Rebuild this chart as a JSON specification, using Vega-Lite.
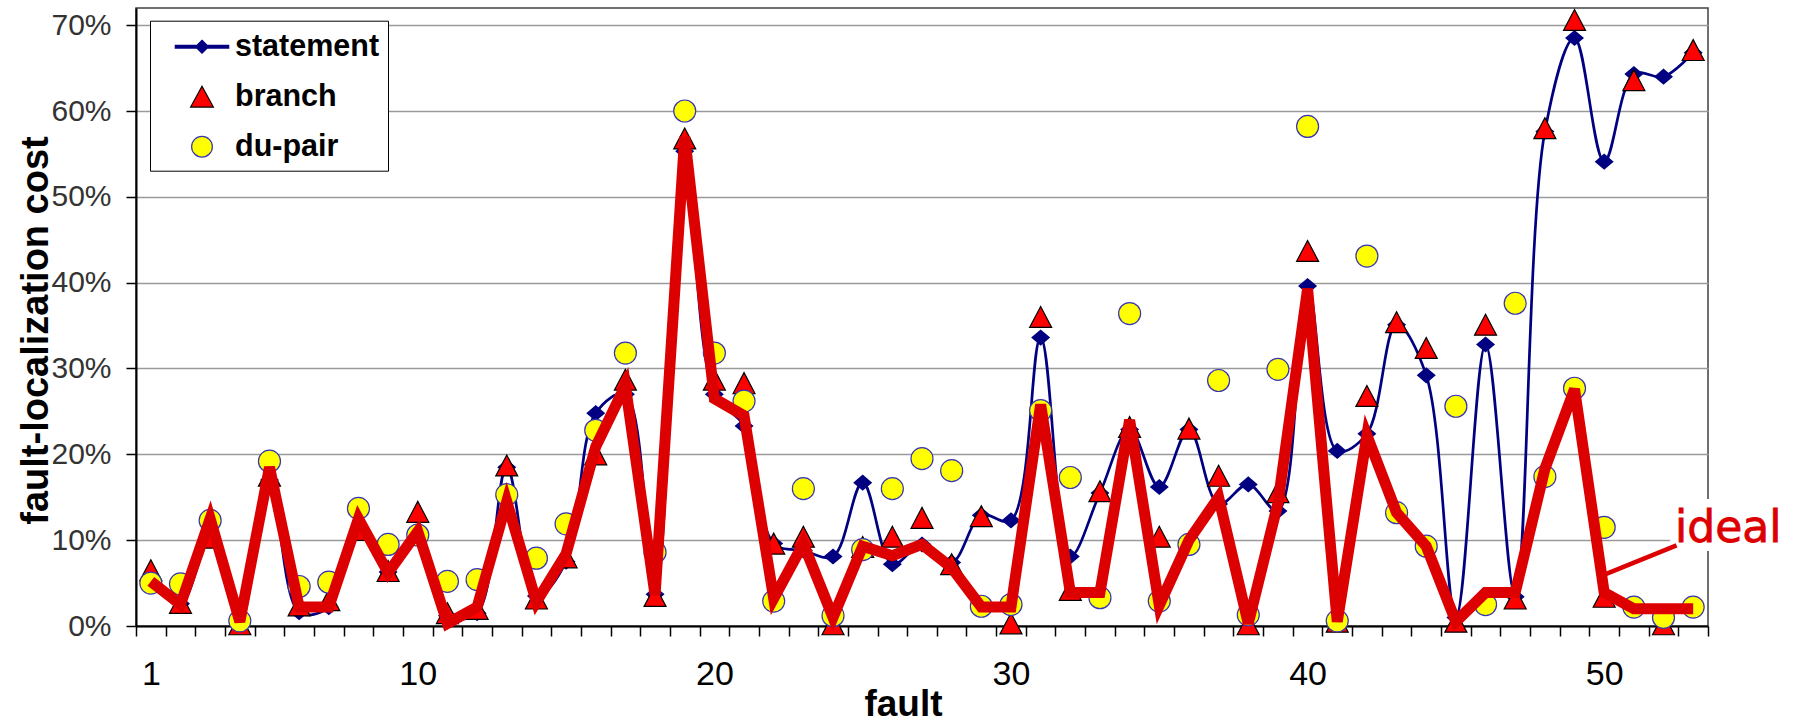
{
  "$schema": "https://vega.github.io/schema/vega-lite/v6.json",
  "width": 1572,
  "height": 618,
  "autosize": {"type": "none"},
  "padding": {"left": 136, "top": 8, "right": 92, "bottom": 96},
  "background": "white",
  "config": {
    "view": {"stroke": "#404040", "strokeWidth": 1.5}
  },
  "datasets": {
    "faults": [
      {"fault": 1, "statement": 0.050, "branch": 0.065, "dupair": 0.050, "ideal": 0.052},
      {"fault": 2, "statement": 0.026, "branch": 0.027, "dupair": 0.049, "ideal": 0.025},
      {"fault": 3, "statement": 0.100, "branch": 0.103, "dupair": 0.123, "ideal": 0.125},
      {"fault": 4, "statement": 0.005, "branch": 0.002, "dupair": 0.006, "ideal": 0.005},
      {"fault": 5, "statement": 0.170, "branch": 0.175, "dupair": 0.192, "ideal": 0.185},
      {"fault": 6, "statement": 0.016, "branch": 0.024, "dupair": 0.046, "ideal": 0.022},
      {"fault": 7, "statement": 0.022, "branch": 0.030, "dupair": 0.051, "ideal": 0.022},
      {"fault": 8, "statement": 0.110, "branch": 0.112, "dupair": 0.137, "ideal": 0.125},
      {"fault": 9, "statement": 0.063, "branch": 0.064, "dupair": 0.095, "ideal": 0.062},
      {"fault": 10, "statement": 0.103, "branch": 0.133, "dupair": 0.106, "ideal": 0.110},
      {"fault": 11, "statement": 0.012, "branch": 0.015, "dupair": 0.052, "ideal": 0.003},
      {"fault": 12, "statement": 0.015, "branch": 0.020, "dupair": 0.054, "ideal": 0.022},
      {"fault": 13, "statement": 0.185, "branch": 0.187, "dupair": 0.153, "ideal": 0.145},
      {"fault": 14, "statement": 0.035, "branch": 0.032, "dupair": 0.079, "ideal": 0.028},
      {"fault": 15, "statement": 0.075, "branch": 0.080, "dupair": 0.119, "ideal": 0.084},
      {"fault": 16, "statement": 0.248, "branch": 0.200, "dupair": 0.228, "ideal": 0.209},
      {"fault": 17, "statement": 0.270, "branch": 0.287, "dupair": 0.318, "ideal": 0.280},
      {"fault": 18, "statement": 0.037, "branch": 0.035, "dupair": 0.086, "ideal": 0.036},
      {"fault": 19, "statement": 0.553, "branch": 0.568, "dupair": 0.600, "ideal": 0.570},
      {"fault": 20, "statement": 0.270, "branch": 0.287, "dupair": 0.318, "ideal": 0.265},
      {"fault": 21, "statement": 0.233, "branch": 0.283, "dupair": 0.262, "ideal": 0.245},
      {"fault": 22, "statement": 0.096, "branch": 0.096, "dupair": 0.029, "ideal": 0.032},
      {"fault": 23, "statement": 0.088, "branch": 0.104, "dupair": 0.160, "ideal": 0.096},
      {"fault": 24, "statement": 0.081, "branch": 0.002, "dupair": 0.012, "ideal": 0.010},
      {"fault": 25, "statement": 0.167, "branch": 0.092, "dupair": 0.089, "ideal": 0.093},
      {"fault": 26, "statement": 0.072, "branch": 0.104, "dupair": 0.160, "ideal": 0.082},
      {"fault": 27, "statement": 0.095, "branch": 0.126, "dupair": 0.195, "ideal": 0.095},
      {"fault": 28, "statement": 0.074, "branch": 0.072, "dupair": 0.181, "ideal": 0.068},
      {"fault": 29, "statement": 0.129, "branch": 0.128, "dupair": 0.023, "ideal": 0.022},
      {"fault": 30, "statement": 0.123, "branch": 0.003, "dupair": 0.025, "ideal": 0.022},
      {"fault": 31, "statement": 0.336, "branch": 0.360, "dupair": 0.251, "ideal": 0.258},
      {"fault": 32, "statement": 0.081, "branch": 0.042, "dupair": 0.173, "ideal": 0.039},
      {"fault": 33, "statement": 0.155, "branch": 0.157, "dupair": 0.033, "ideal": 0.039},
      {"fault": 34, "statement": 0.229, "branch": 0.232, "dupair": 0.364, "ideal": 0.240},
      {"fault": 35, "statement": 0.162, "branch": 0.104, "dupair": 0.029, "ideal": 0.024},
      {"fault": 36, "statement": 0.229, "branch": 0.230, "dupair": 0.095, "ideal": 0.100},
      {"fault": 37, "statement": 0.142, "branch": 0.175, "dupair": 0.286, "ideal": 0.150},
      {"fault": 38, "statement": 0.165, "branch": 0.002, "dupair": 0.013, "ideal": 0.003},
      {"fault": 39, "statement": 0.134, "branch": 0.156, "dupair": 0.299, "ideal": 0.143},
      {"fault": 40, "statement": 0.396, "branch": 0.437, "dupair": 0.582, "ideal": 0.393},
      {"fault": 41, "statement": 0.204, "branch": 0.005, "dupair": 0.006, "ideal": 0.005},
      {"fault": 42, "statement": 0.224, "branch": 0.268, "dupair": 0.431, "ideal": 0.222},
      {"fault": 43, "statement": 0.351, "branch": 0.354, "dupair": 0.132, "ideal": 0.132},
      {"fault": 44, "statement": 0.292, "branch": 0.324, "dupair": 0.093, "ideal": 0.093},
      {"fault": 45, "statement": 0.010, "branch": 0.005, "dupair": 0.256, "ideal": 0.005},
      {"fault": 46, "statement": 0.328, "branch": 0.351, "dupair": 0.025, "ideal": 0.039},
      {"fault": 47, "statement": 0.034, "branch": 0.032, "dupair": 0.376, "ideal": 0.039},
      {"fault": 48, "statement": 0.576, "branch": 0.580, "dupair": 0.174, "ideal": 0.183},
      {"fault": 49, "statement": 0.685, "branch": 0.706, "dupair": 0.277, "ideal": 0.276},
      {"fault": 50, "statement": 0.541, "branch": 0.034, "dupair": 0.115, "ideal": 0.039},
      {"fault": 51, "statement": 0.643, "branch": 0.636, "dupair": 0.022, "ideal": 0.020},
      {"fault": 52, "statement": 0.640, "branch": 0.002, "dupair": 0.010, "ideal": 0.020},
      {"fault": 53, "statement": 0.668, "branch": 0.671, "dupair": 0.022, "ideal": 0.020}
    ]
  },
  "data": {"name": "faults"},
  "encoding": {
    "x": {
      "field": "fault", "type": "quantitative", "title": "fault",
      "scale": {"domain": [0.5, 53.5], "nice": false, "zero": false},
      "axis": {
        "values": [0.5, 1.5, 2.5, 3.5, 4.5, 5.5, 6.5, 7.5, 8.5, 9.5, 10.5, 11.5, 12.5, 13.5, 14.5, 15.5, 16.5, 17.5, 18.5, 19.5, 20.5, 21.5, 22.5, 23.5, 24.5, 25.5, 26.5, 27.5, 28.5, 29.5, 30.5, 31.5, 32.5, 33.5, 34.5, 35.5, 36.5, 37.5, 38.5, 39.5, 40.5, 41.5, 42.5, 43.5, 44.5, 45.5, 46.5, 47.5, 48.5, 49.5, 50.5, 51.5, 52.5, 53.5, 1, 10, 20, 30, 40, 50],
        "labelExpr": "datum.value % 1 === 0 ? format(datum.value, 'd') : ''",
        "tickOpacity": {"condition": {"test": "datum.value % 1 === 0", "value": 0}, "value": 1},
        "labelOverlap": false,
        "labelFlush": false,
        "labelBound": false,
        "grid": false,
        "domainColor": "#000000",
        "domainWidth": 2,
        "tickColor": "#000000",
        "tickWidth": 1.5,
        "tickSize": 10,
        "labelFont": "Liberation Sans",
        "labelFontSize": 34,
        "labelColor": "#000000",
        "labelPadding": 21,
        "titleFont": "Liberation Sans",
        "titleFontSize": 37,
        "titleFontWeight": "bold",
        "titleColor": "#000000",
        "titlePadding": -5,
        "titleX": 767
      }
    },
    "y": {
      "field": "value", "type": "quantitative", "title": "fault-localization cost",
      "scale": {"domain": [0, 0.72], "nice": false, "zero": true},
      "axis": {
        "values": [0, 0.1, 0.2, 0.3, 0.4, 0.5, 0.6, 0.7],
        "format": ".0%",
        "grid": true,
        "gridColor": "#9a9a9a",
        "gridWidth": 1.5,
        "domainColor": "#000000",
        "domainWidth": 2,
        "tickColor": "#000000",
        "tickWidth": 1.5,
        "tickSize": 10,
        "labelFont": "Liberation Sans",
        "labelFontSize": 30,
        "labelColor": "#333333",
        "labelPadding": 15,
        "titleFont": "Liberation Sans",
        "titleFontSize": 38,
        "titleFontWeight": "bold",
        "titleColor": "#000000",
        "titlePadding": -5,
        "titleY": 322
      }
    }
  },
  "layer": [
    {
      "transform": [{"fold": ["statement"], "as": ["key", "value"]}],
      "mark": {"type": "line", "color": "#000080", "strokeWidth": 2.7, "interpolate": "catmull-rom"}
    },
    {
      "transform": [{"fold": ["statement"], "as": ["key", "value"]}],
      "mark": {"type": "point", "shape": "M-1,0L0,-0.85L1,0L0,0.85Z", "filled": true, "color": "#000080", "size": 361, "opacity": 1}
    },
    {
      "transform": [{"fold": ["branch"], "as": ["key", "value"]}],
      "mark": {"type": "point", "shape": "M0,-0.95L1,0.95L-1,0.95Z", "filled": true, "fill": "#FF0000", "stroke": "#000000", "strokeWidth": 1.2, "size": 484, "opacity": 1}
    },
    {
      "transform": [{"fold": ["dupair"], "as": ["key", "value"]}],
      "mark": {"type": "point", "shape": "circle", "filled": true, "fill": "#FFFF00", "stroke": "#3535B5", "strokeWidth": 1.2, "size": 484, "opacity": 1}
    },
    {
      "transform": [{"fold": ["ideal"], "as": ["key", "value"]}],
      "mark": {"type": "line", "color": "#DD0000", "strokeWidth": 11, "strokeJoin": "miter"}
    },
    {
      "data": {"values": [{"fault": 52.39, "value": 0.0978, "label": "ideal"}]},
      "mark": {"type": "text", "align": "left", "baseline": "alphabetic", "font": "DejaVu Sans", "fontSize": 44, "color": "#FFFFFF", "stroke": "#FFFFFF", "strokeWidth": 18, "strokeJoin": "round"},
      "encoding": {
        "text": {"field": "label"}
      }
    },
    {
      "data": {"values": [{"fault": 49.8, "value": 0.057, "fault2": 52.44, "value2": 0.094}]},
      "mark": {"type": "rule", "color": "#DD0000", "strokeWidth": 4.5},
      "encoding": {
        "x2": {"field": "fault2"},
        "y2": {"field": "value2"}
      }
    },
    {
      "data": {"values": [{"fault": 52.39, "value": 0.0978, "label": "ideal"}]},
      "mark": {"type": "text", "align": "left", "baseline": "alphabetic", "font": "DejaVu Sans", "fontSize": 44, "color": "#DD0000", "stroke": "#DD0000", "strokeWidth": 0.8},
      "encoding": {
        "text": {"field": "label"}
      }
    },
    {
      "data": {"values": [{"series": "statement"}, {"series": "branch"}, {"series": "du-pair"}]},
      "transform": [{"filter": "false"}],
      "mark": {"type": "point", "filled": true, "strokeWidth": 1.2, "opacity": 1},
      "encoding": {
        "fill": {
          "field": "series", "type": "nominal",
          "scale": {"domain": ["statement", "branch", "du-pair"], "range": ["#000080", "#FF0000", "#FFFF00"]},
          "legend": {
            "title": null, "orient": "none", "legendX": 14, "legendY": 12.7,
            "padding": 8, "strokeColor": "#000000", "fillColor": "#FFFFFF",
            "symbolSize": 1156, "symbolOffset": 26, "labelOffset": 15, "rowPadding": 16,
            "symbolStrokeWidth": 1.2,
            "labelExpr": "datum.label + '\u00a0'",
            "labelFont": "Liberation Sans", "labelFontSize": 30.5, "labelFontWeight": "bold", "labelColor": "#000000",
            "encode": {"legend": {"update": {"strokeWidth": {"value": 1.5}}}}
          }
        },
        "stroke": {
          "field": "series", "type": "nominal",
          "scale": {"domain": ["statement", "branch", "du-pair"], "range": ["#000080", "#000000", "#3535B5"]},
          "legend": {
            "title": null, "orient": "none", "legendX": 14, "legendY": 12.7,
            "padding": 8, "strokeColor": "#000000", "fillColor": "#FFFFFF",
            "symbolSize": 1156, "symbolOffset": 26, "labelOffset": 15, "rowPadding": 16,
            "symbolStrokeWidth": 1.2,
            "labelExpr": "datum.label + '\u00a0'",
            "labelFont": "Liberation Sans", "labelFontSize": 30.5, "labelFontWeight": "bold", "labelColor": "#000000",
            "encode": {"legend": {"update": {"strokeWidth": {"value": 1.5}}}}
          }
        },
        "shape": {
          "field": "series", "type": "nominal",
          "scale": {"domain": ["statement", "branch", "du-pair"], "range": ["M-1.57,-0.08H1.57V0.08H-1.57Z M0,-0.38L0.38,0L0,0.38L-0.38,0Z", "M0,-0.61L0.67,0.61L-0.67,0.61Z", "M0.61,0A0.61,0.61,0,1,1,-0.61,0A0.61,0.61,0,1,1,0.61,0Z"]},
          "legend": {
            "title": null, "orient": "none", "legendX": 14, "legendY": 12.7,
            "padding": 8, "strokeColor": "#000000", "fillColor": "#FFFFFF",
            "symbolSize": 1156, "symbolOffset": 26, "labelOffset": 15, "rowPadding": 16,
            "symbolStrokeWidth": 1.2,
            "labelExpr": "datum.label + '\u00a0'",
            "labelFont": "Liberation Sans", "labelFontSize": 30.5, "labelFontWeight": "bold", "labelColor": "#000000",
            "encode": {"legend": {"update": {"strokeWidth": {"value": 1.5}}}}
          }
        }
      }
    }
  ]
}
